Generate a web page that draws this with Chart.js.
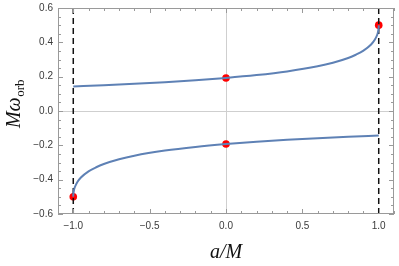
<!DOCTYPE html>
<html lang="en">
<head>
  <meta charset="UTF-8">
  <title>Photon orbit frequency</title>
  <script src="https://cdn.jsdelivr.net/npm/chart.js"></script>
  <style>
    body { margin: 0; background: #fff; overflow: hidden; }
    #wrap { width: 399px; height: 269px; margin-top: -3px; }
  </style>
</head>
<body>
  <div id="wrap"><canvas id="myChart"></canvas></div>
  <script>
    // upper branch (positive frequency)
    const upperA = [-1, -0.8, -0.6, -0.4, -0.2, 0, 0.2, 0.4, 0.6, 0.7, 0.8, 0.85, 0.9, 0.95, 0.975, 0.99, 0.995, 0.999, 0.9999, 1];
    const upperW = [0.1429, 0.1501, 0.1583, 0.1678, 0.1791, 0.1925, 0.2091, 0.2306, 0.2605, 0.2812, 0.3089, 0.3277, 0.3516, 0.3873, 0.4160, 0.4441, 0.4594, 0.4812, 0.4939, 0.5];
    // lower branch (negative frequency)
    const lowerA = [-1, -0.9999, -0.999, -0.995, -0.99, -0.975, -0.95, -0.9, -0.85, -0.8, -0.7, -0.6, -0.4, -0.2, 0, 0.2, 0.4, 0.6, 0.8, 1];
    const lowerW = [-0.5, -0.4939, -0.4812, -0.4594, -0.4441, -0.4160, -0.3873, -0.3516, -0.3277, -0.3089, -0.2812, -0.2605, -0.2306, -0.2091, -0.1925, -0.1791, -0.1678, -0.1583, -0.1501, -0.1429];
    // marked points
    const dotA = [-1, 0, 0, 1];
    const dotW = [-0.5, -0.1925, 0.1925, 0.5];
    // extremal spin lines
    const limitA = [-1, 1];
    const yMin = -0.6, yMax = 0.6;
    const xMin = -1.1, xMax = 1.1;
    const xMajor = [-1, -0.5, 0, 0.5, 1];
    const yMajor = [-0.6, -0.4, -0.2, 0, 0.2, 0.4, 0.6];

    const toXY = (xs, ys) => xs.map((x, i) => ({ x: x, y: ys[i] }));
    const fmt = v => (v < 0 ? '\u2212' : '') + Math.abs(v).toFixed(1);
    const near = (v, list) => list.some(m => Math.abs(m - v) < 1e-6);

    const blue = '#5e81b5';
    const frameColor = '#9a9a9a';

    const datasets = [
      { data: toXY(upperA, upperW), borderColor: blue, borderWidth: 2, pointRadius: 0, showLine: true, cubicInterpolationMode: 'monotone' },
      { data: toXY(lowerA, lowerW), borderColor: blue, borderWidth: 2, pointRadius: 0, showLine: true, cubicInterpolationMode: 'monotone' }
    ];
    limitA.forEach(a => {
      datasets.push({ data: [{ x: a, y: yMin }, { x: a, y: yMax }], borderColor: '#111', borderWidth: 1.5, borderDash: [6, 4], pointRadius: 0, showLine: true });
    });
    datasets.push({ data: toXY(dotA, dotW), showLine: false, pointRadius: 3.8, pointBackgroundColor: '#ff0000', pointBorderWidth: 0 });

    // frame, inward ticks and axis titles in Mathematica style
    const framePlugin = {
      id: 'frame',
      afterDraw(chart) {
        const c = chart.ctx, a = chart.chartArea;
        const xs = chart.scales.x, ys = chart.scales.y;
        c.save();
        c.strokeStyle = frameColor;
        c.lineWidth = 1;
        c.strokeRect(a.left + 0.5, a.top + 0.5, a.right - a.left - 1, a.bottom - a.top - 1);
        for (let i = -11; i <= 11; i++) {
          const v = i / 10;
          const px = Math.round(xs.getPixelForValue(v)) + 0.5;
          const len = near(v, xMajor) ? 5 : 3;
          c.beginPath();
          c.moveTo(px, a.bottom); c.lineTo(px, a.bottom - len);
          c.moveTo(px, a.top); c.lineTo(px, a.top + len);
          c.stroke();
        }
        for (let i = -12; i <= 12; i++) {
          const v = i * 0.05;
          const py = Math.round(ys.getPixelForValue(v)) + 0.5;
          const len = near(v, yMajor) ? 5 : 3;
          c.beginPath();
          c.moveTo(a.left, py); c.lineTo(a.left + len, py);
          c.moveTo(a.right, py); c.lineTo(a.right - len, py);
          c.stroke();
        }
        // x title
        c.fillStyle = '#111';
        c.font = 'italic 20px "Liberation Serif"';
        c.textAlign = 'center';
        c.textBaseline = 'alphabetic';
        c.fillText('a/M', (a.left + a.right) / 2, 261);
        // y title
        c.translate(20, 107);
        c.rotate(-Math.PI / 2);
        const mainFont = 'italic 20px "Liberation Serif"';
        const subFont = '13px "Liberation Serif"';
        c.font = mainFont;
        const wMain = c.measureText('M\u03c9').width;
        c.font = subFont;
        const wSub = c.measureText('orb').width;
        let x0 = -(wMain + wSub) / 2;
        c.textAlign = 'left';
        c.font = mainFont;
        c.fillText('M\u03c9', x0, 0);
        c.font = subFont;
        c.fillText('orb', x0 + wMain + 0.5, 4);
        c.restore();
      }
    };

    const ctx = document.getElementById('myChart').getContext('2d');
    const chart = new Chart(ctx, {
      type: 'scatter',
      data: { datasets: datasets },
      options: {
        responsive: true,
        maintainAspectRatio: false,
        animation: false,
        layout: { padding: { top: 3, right: 5, left: 0, bottom: 0 } },
        plugins: { legend: { display: false }, tooltip: { enabled: false } },
        scales: {
          x: {
            type: 'linear', min: xMin, max: xMax,
            afterBuildTicks: s => { s.ticks = xMajor.map(v => ({ value: v })); },
            afterFit: s => { s.height = 52; },
            ticks: { callback: v => fmt(v), color: '#3a3a3a', font: { size: 10, family: 'Liberation Sans' }, padding: 6, maxRotation: 0 },
            grid: { drawTicks: false, color: ctx => (ctx.tick && Math.abs(ctx.tick.value) < 1e-6 ? '#cfcfcf' : 'rgba(0,0,0,0)'), lineWidth: 1 },
            border: { display: false }
          },
          y: {
            type: 'linear', min: yMin, max: yMax,
            afterBuildTicks: s => { s.ticks = yMajor.map(v => ({ value: v })); },
            afterFit: s => { s.width = 58; },
            ticks: { callback: v => fmt(v), color: '#3a3a3a', font: { size: 10, family: 'Liberation Sans' }, padding: 5 },
            grid: { drawTicks: false, color: ctx => (ctx.tick && Math.abs(ctx.tick.value) < 1e-6 ? '#cfcfcf' : 'rgba(0,0,0,0)'), lineWidth: 1 },
            border: { display: false }
          }
        }
      },
      plugins: [framePlugin]
    });
  </script>
</body>
</html>
